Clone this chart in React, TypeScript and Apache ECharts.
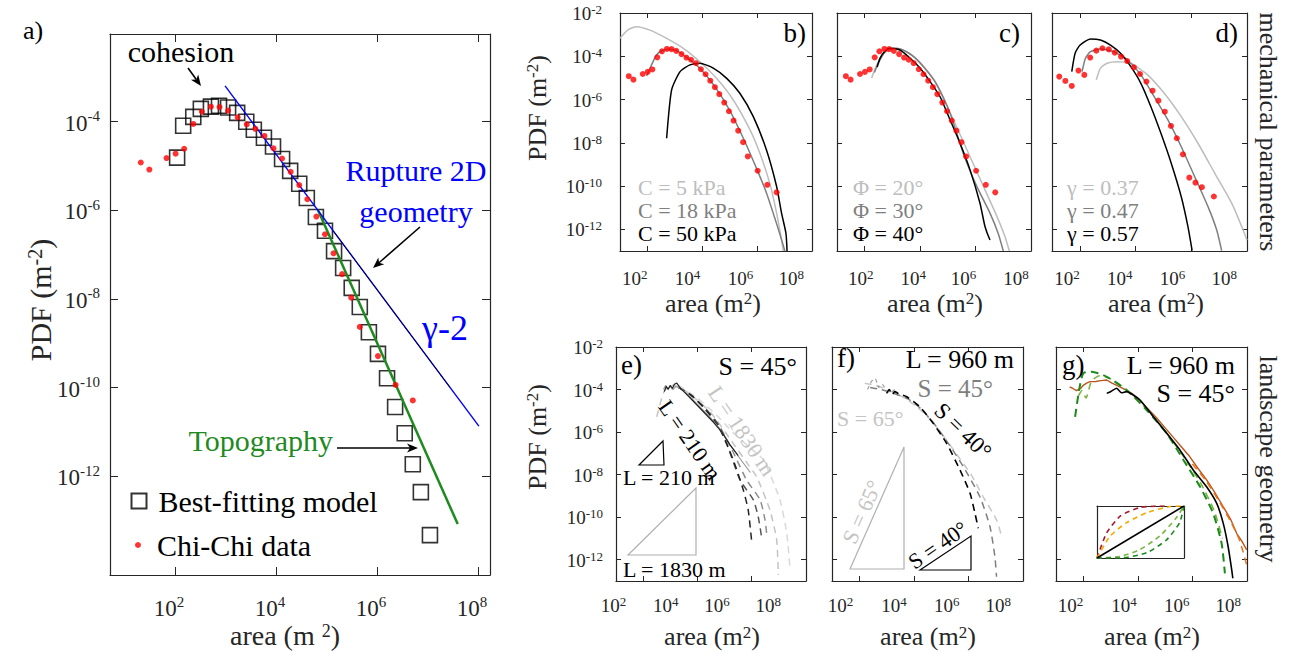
import React, { useEffect, useRef } from 'react';
import * as echarts from 'echarts';

// ---------- DATA (log10 of area in m^2, log10 of PDF in m^-2) ----------
// Panel a: best-fitting model (squares)
const aModelLogArea = [2.04, 2.16, 2.36, 2.51, 2.71, 2.87, 3.05, 3.23, 3.41, 3.56, 3.76, 3.94, 4.12, 4.28, 4.46, 4.61, 4.79, 4.97, 5.15, 5.33, 5.50, 5.66, 5.84, 6.02, 6.20, 6.36, 6.55, 6.71, 6.87, 7.05];
const aModelLogPdf = [-4.81, -4.09, -3.89, -3.71, -3.66, -3.64, -3.68, -3.80, -4.00, -4.18, -4.36, -4.56, -4.84, -5.11, -5.40, -5.72, -6.15, -6.46, -6.92, -7.30, -7.75, -8.18, -8.75, -9.24, -9.79, -10.44, -11.03, -11.73, -12.36, -13.33];
// Chi-Chi data (a, b, c)
const chiLogArea = [1.32, 1.49, 1.83, 2.01, 2.18, 2.36, 2.53, 2.71, 2.88, 3.05, 3.24, 3.42, 3.59, 3.77, 3.95, 4.12, 4.29, 4.46, 4.62, 4.80, 4.97, 5.14, 5.31, 5.49, 5.66, 6.02, 6.37, 6.71];
const chiLogPdf = [-4.92, -5.08, -4.82, -4.72, -4.61, -4.05, -3.77, -3.66, -3.67, -3.75, -3.90, -4.06, -4.16, -4.32, -4.60, -4.83, -5.13, -5.43, -5.75, -6.14, -6.54, -6.97, -7.44, -7.97, -8.63, -9.29, -9.94, -10.29];
// Panel a lines
const ruptureLogArea = [2.99, 8.02];
const ruptureLogPdf = [-3.19, -10.87];
const ruptureOverlayLogArea = [5.13, 7.45];
const ruptureOverlayLogPdf = [-6.46, -10.0];
const topoLogArea = [4.83, 7.60];
const topoLogPdf = [-5.99, -13.08];

// Panel b: cohesion
const bC5Area = [1.0, 1.3, 1.61, 2.09, 2.70, 3.31, 3.91, 4.52, 5.13, 5.74, 6.10, 6.46, 6.71, 6.89, 6.95];
const bC5Pdf = [-3.17, -2.77, -2.63, -2.79, -3.17, -3.63, -4.25, -5.02, -6.02, -7.40, -8.48, -9.87, -11.25, -12.49, -13.0];
const bC18Area = [1.97, 2.15, 2.33, 2.58, 2.82, 3.06, 3.43, 3.91, 4.46, 5.0, 5.5, 6.0, 6.35, 6.70, 6.92, 7.01];
const bC18Pdf = [-4.91, -4.40, -3.94, -3.71, -3.67, -3.74, -4.05, -4.55, -5.40, -6.50, -7.80, -9.25, -10.35, -11.7, -12.6, -13.0];
const bC50Area = [2.70, 2.88, 3.19, 3.55, 3.91, 4.40, 4.89, 5.37, 5.86, 6.34, 6.71, 6.89, 7.05, 7.09];
const bC50Pdf = [-7.79, -5.56, -4.71, -4.40, -4.32, -4.55, -5.02, -5.71, -6.79, -8.33, -10.02, -11.25, -12.18, -13.0];

// Panel c: friction angle
const cPhi20Area = [2.25, 2.4, 2.6, 2.8, 3.0, 3.3, 3.7, 4.1, 4.5, 5.08, 5.68, 6.28, 6.77, 7.05, 7.22];
const cPhi20Pdf = [-5.0, -4.5, -4.0, -3.75, -3.63, -3.66, -3.95, -4.45, -5.1, -6.6, -8.3, -10.0, -11.4, -12.3, -13.0];
const cPhi30Area = [2.35, 2.5, 2.7, 2.9, 3.1, 3.4, 3.8, 4.2, 4.6, 5.1, 5.56, 6.04, 6.52, 6.82, 7.0];
const cPhi30Pdf = [-4.75, -4.3, -3.85, -3.65, -3.63, -3.72, -4.05, -4.6, -5.3, -6.7, -8.5, -10.0, -11.25, -12.2, -13.0];
const cPhi40Area = [2.45, 2.55, 2.7, 2.91, 3.27, 3.64, 4.0, 4.36, 4.72, 5.08, 5.44, 5.80, 6.16, 6.34, 6.52];
const cPhi40Pdf = [-4.5, -4.1, -3.8, -3.63, -3.71, -4.09, -4.55, -5.17, -5.87, -6.94, -8.02, -9.25, -10.79, -11.87, -12.49];

// Panel d: gamma
const dG57Area = [1.71, 1.83, 2.01, 2.38, 2.74, 3.10, 3.46, 3.83, 4.19, 4.55, 4.91, 5.28, 5.64, 5.88, 6.03];
const dG57Pdf = [-4.71, -3.86, -3.48, -3.20, -3.25, -3.48, -3.86, -4.48, -5.25, -6.33, -7.56, -8.94, -10.49, -11.87, -12.98];
const dG47Area = [2.08, 2.20, 2.38, 2.74, 3.22, 3.71, 4.19, 4.67, 5.16, 5.64, 6.12, 6.60, 6.91, 7.09];
const dG47Pdf = [-4.71, -4.09, -3.79, -3.66, -3.79, -4.17, -4.86, -5.87, -6.94, -8.18, -9.56, -10.95, -12.02, -12.98];
const dG37Area = [2.59, 2.74, 2.98, 3.34, 3.83, 4.43, 5.03, 5.64, 6.24, 6.84, 7.45, 7.81, 8.0];
const dG37Pdf = [-5.09, -4.55, -4.32, -4.25, -4.32, -4.86, -5.71, -6.79, -8.02, -9.40, -10.79, -11.87, -12.5];
const dDataArea = [1.26, 1.48, 1.71, 1.95, 2.16, 2.37, 2.59, 2.81, 3.04, 3.25, 3.48, 3.70, 3.94, 4.16, 4.39, 4.61, 4.82, 5.05, 5.27, 5.48, 5.70, 5.93, 6.15, 6.38, 6.81];
const dDataPdf = [-4.94, -5.14, -5.37, -4.66, -4.86, -4.06, -3.74, -3.63, -3.68, -3.83, -4.02, -4.22, -4.51, -4.82, -5.17, -5.59, -6.05, -6.56, -7.22, -7.79, -8.53, -9.61, -9.84, -10.05, -10.48];

// Panel e: hillslope length
const eSolidBlackArea = [2.78, 2.85, 2.92, 3.0, 3.08, 3.15, 3.24, 3.35, 3.5, 3.7, 4.0, 4.3, 4.6, 4.9, 5.2, 5.5];
const eSolidBlackPdf = [-4.1, -3.85, -4.0, -3.8, -3.95, -3.75, -3.7, -3.9, -4.1, -4.35, -4.75, -5.15, -5.55, -6.0, -6.6, -7.1];
const eSolidGreyArea = [2.75, 2.83, 2.9, 3.0, 3.1, 3.2, 3.4, 3.7, 4.0, 4.4, 4.8, 5.2, 5.6, 5.95];
const eSolidGreyPdf = [-4.0, -3.8, -3.95, -3.85, -4.0, -3.85, -3.95, -4.3, -4.7, -5.2, -5.8, -6.6, -7.3, -7.9];
const eDash1Area = [3.3, 3.8, 4.3, 4.8, 5.32, 5.69, 5.87, 6.0];
const eDash1Pdf = [-3.9, -4.3, -4.95, -5.8, -7.31, -8.72, -9.66, -11.15];
const eDash2Area = [3.3, 3.8, 4.3, 4.8, 5.1, 5.57, 6.06, 6.24, 6.37];
const eDash2Pdf = [-3.9, -4.3, -4.9, -5.7, -6.6, -8.25, -9.19, -9.98, -10.99];
const eDash3Area = [3.3, 3.8, 4.3, 4.8, 5.3, 5.81, 6.31, 6.49, 6.55];
const eDash3Pdf = [-3.9, -4.3, -4.9, -5.7, -6.9, -8.25, -9.19, -10.13, -10.76];
const eDash4Area = [2.5, 2.74, 2.87, 3.1, 3.6, 4.5, 5.3, 5.8, 6.18, 6.67, 6.92, 6.98];
const eDash4Pdf = [-5.28, -4.18, -3.94, -3.8, -4.1, -5.1, -6.5, -7.4, -8.10, -9.66, -11.07, -12.72];
const eDash5Area = [3.3, 4.0, 4.7, 5.3, 5.9, 6.43, 7.04, 7.29, 7.41];
const eDash5Pdf = [-3.8, -4.4, -5.2, -6.0, -6.7, -7.31, -9.19, -10.76, -12.40];

// Panel f: slope
const fNoisyArea = [2.3, 2.45, 2.6, 2.7, 2.85, 3.0, 3.15, 3.3];
const fNoisyPdf = [-4.0, -3.6, -3.5, -3.9, -3.75, -4.05, -4.15, -4.0];
const fS40Area = [3.0, 3.1, 3.2, 3.3, 3.45, 3.74, 4.22, 4.71, 5.20, 5.69, 6.06, 6.24, 6.36];
const fS40Pdf = [-4.18, -4.0, -4.25, -4.1, -4.2, -4.34, -4.81, -5.59, -6.53, -7.78, -8.88, -9.82, -10.52];
const fS45Area = [2.4, 2.8, 3.3, 3.8, 4.3, 4.8, 5.3, 5.8, 6.42, 6.79, 6.97, 7.03];
const fS45Pdf = [-3.9, -4.0, -4.2, -4.45, -4.95, -5.7, -6.6, -7.6, -9.04, -10.45, -11.86, -12.8];
const fS65Area = [2.2, 2.6, 3.1, 3.6, 4.1, 4.6, 5.1, 5.6, 6.1, 6.54, 7.03, 7.22];
const fS65Pdf = [-3.7, -3.8, -4.05, -4.35, -4.8, -5.4, -6.2, -7.1, -8.0, -9.04, -10.13, -10.92];

// Panel g: hillslope shape
const gBlackArea = [2.86, 3.0, 3.22, 3.4, 3.59, 4.08, 4.57, 5.06, 5.54, 6.03, 6.52, 6.89, 7.13, 7.31, 7.44, 7.48];
const gBlackPdf = [-4.18, -4.1, -3.94, -4.15, -4.10, -4.49, -5.28, -6.06, -6.84, -7.78, -8.57, -9.35, -10.29, -11.39, -12.48, -12.87];
const gBrownArea = [1.5, 1.62, 1.75, 1.9, 2.0, 2.12, 2.25, 2.45, 2.65, 2.86, 3.05, 3.25, 3.5, 3.8, 4.1, 4.4, 4.7, 5.0, 5.3, 5.6, 5.9, 6.2, 6.52, 6.8, 7.13, 7.4, 7.62, 7.8, 7.99];
const gBrownPdf = [-3.87, -3.95, -4.05, -3.95, -3.8, -3.7, -3.63, -3.62, -3.58, -3.55, -3.7, -3.82, -3.98, -4.2, -4.55, -4.95, -5.35, -5.8, -6.25, -6.7, -7.15, -7.7, -8.25, -8.8, -9.51, -10.1, -10.76, -11.1, -11.54];
const gOrangeArea = [6.0, 6.5, 7.0, 7.4, 7.7, 7.85, 8.0];
const gOrangePdf = [-7.5, -8.3, -9.3, -10.2, -11.0, -11.6, -12.3];
const gGreenArea = [1.70, 1.85, 2.0, 2.31, 2.86, 3.59, 4.32, 5.06, 5.67, 6.28, 6.76, 7.07, 7.19];
const gGreenPdf = [-5.28, -4.0, -3.24, -3.16, -3.40, -4.02, -4.96, -6.06, -7.31, -8.57, -9.82, -11.23, -12.64];
const gLightGreenArea = [1.82, 1.95, 2.1, 2.3, 2.6, 3.0, 3.5, 4.2, 5.0, 5.7, 6.3, 6.8, 7.1];
const gLightGreenPdf = [-4.3, -4.05, -4.4, -3.6, -3.35, -3.5, -3.95, -4.75, -5.95, -7.2, -8.4, -9.7, -11.0];
// Inset of g: normalized hillslope profiles
const insetRedX = [0, 0.11, 0.27, 0.49, 0.72, 0.80];
const insetRedY = [0, 0.48, 0.81, 0.97, 1.0, 1.0];
const insetYellowX = [0, 0.15, 0.34, 0.57, 0.84, 1];
const insetYellowY = [0, 0.42, 0.68, 0.87, 0.99, 1];
const insetBlackX = [0, 1];
const insetBlackY = [0, 1];
const insetLightGreenX = [0, 0.27, 0.49, 0.72, 0.91, 1];
const insetLightGreenY = [0, 0.03, 0.16, 0.42, 0.77, 1];
const insetGreenX = [0, 0.27, 0.57, 0.80, 0.95, 1];
const insetGreenY = [0, 0, 0.10, 0.35, 0.68, 1];

// Tick positions (exponents)
const xTickExp = [2, 4, 6, 8];
const yTickExpA = [-12, -10, -8, -6, -4];
const yTickExp = [-12, -10, -8, -6, -4, -2];

// ---------- STYLE ----------
const FONT = '"Liberation Serif", "Times New Roman", serif';
const AX = '#262626';
const LGREY = '#bdbdbd';
const MGREY = '#7f7f7f';

const pairs = (xs: number[], ys: number[]) => xs.map((x, i) => [x, ys[i]]);

const grids = [
  { left: 110, top: 34, width: 380, height: 541 },
  { left: 620, top: 13, width: 192, height: 238 },
  { left: 837, top: 13, width: 194, height: 238 },
  { left: 1052, top: 13, width: 195, height: 238 },
  { left: 616, top: 347, width: 190, height: 234 },
  { left: 832, top: 347, width: 191, height: 234 },
  { left: 1056, top: 347, width: 191, height: 234 },
  { left: 1097, top: 506, width: 87, height: 52 },
];
// how far left of its tick each x tick label sits in the figure (px)
const xLabelShift = [
  [6, 6, 6, 6],
  [10, 15, 17, 21],
  [4, 7, 12, 15],
  [12, 16, 19, 23],
  [30, 32, 35, 38],
  [19, 20, 22, 25],
  [10, 14, 16, 19],
];
const xLabelMode = ['center', 'right', 'center', 'right', 'right', 'right', 'right'];

const xLabelOpt = (big: boolean, margin: number, shifts: number[], mode: string) => {
  const half = big ? 15 : 12.75;
  const rich: any = {
    b: { fontFamily: FONT, fontSize: big ? 23 : 19, color: AX, lineHeight: big ? 26 : 20, verticalAlign: 'bottom' },
    s: { fontFamily: FONT, fontSize: big ? 15 : 13, color: AX, lineHeight: big ? 14 : 11, verticalAlign: 'top' },
  };
  const pads = shifts.map((sh) => (mode === 'center' ? 2 * sh : Math.max(0, sh - half)));
  pads.forEach((p, i) => {
    rich['p' + i] = { width: Math.max(1, Math.round(p)), fontSize: 2, lineHeight: 2 };
  });
  return {
    show: true, margin, color: AX, fontFamily: FONT, fontSize: big ? 23 : 19,
    align: mode, hideOverlap: false, interval: 0,
    formatter: (v: number) => {
      const i = Math.max(0, xTickExp.indexOf(v));
      return pads[i] >= 1 ? `{b|10}{s|${v}}{p${i}| }` : `{b|10}{s|${v}}`;
    },
    rich,
  };
};
const yLabelOpt = (big: boolean, margin: number) => ({
  show: true, margin, color: AX, fontFamily: FONT, fontSize: big ? 23 : 19, hideOverlap: false,
  formatter: (v: number) => `{b|10}{s|${v}}`,
  rich: {
    b: { fontFamily: FONT, fontSize: big ? 23 : 19, color: AX, lineHeight: big ? 26 : 20, verticalAlign: 'bottom' },
    s: { fontFamily: FONT, fontSize: big ? 15 : 13, color: AX, lineHeight: big ? 14 : 11, verticalAlign: 'top' },
  },
});

function axisPair(kind: 'x' | 'y', gi: number, min: number, max: number, ticks: number[], label: any, tickLen: number) {
  const base: any = {
    gridIndex: gi, type: 'value', min, max,
    splitLine: { show: false },
    axisLine: { show: true, onZero: false, lineStyle: { color: AX, width: 1.2 } },
  };
  const tick = ticks.length
    ? { show: true, inside: true, length: tickLen, customValues: ticks, lineStyle: { color: AX, width: 1 } }
    : { show: false };
  const first = { ...base, position: kind === 'x' ? 'bottom' : 'left', axisTick: tick,
    axisLabel: label ? { ...label, customValues: ticks } : { show: false } };
  const second = { ...base, position: kind === 'x' ? 'top' : 'right', axisTick: tick, axisLabel: { show: false } };
  return [first, second];
}

const line = (gi: number, xs: number[], ys: number[], color: string, width = 1.5, dash: any = 'solid', smooth: any = 0.2, z = 2) => ({
  type: 'line', xAxisIndex: 2 * gi, yAxisIndex: 2 * gi, data: pairs(xs, ys),
  showSymbol: false, symbol: 'none', smooth, clip: true, silent: true,
  lineStyle: { color, width, type: dash }, z,
});
const dots = (gi: number, xs: number[], ys: number[], name: string) => ({
  type: 'scatter', name, xAxisIndex: 2 * gi, yAxisIndex: 2 * gi, data: pairs(xs, ys),
  symbol: 'circle', symbolSize: 6, itemStyle: { color: '#ff0000' }, z: 5, silent: true,
});

const txt = (text: string, x: number, y: number, size: number, color = '#000', align = 'center', rotation = 0, rich?: any, lineHeight?: number) => ({
  type: 'text', x, y, rotation, z: 10,
  style: { text, fontFamily: FONT, fontSize: size, fill: color, align, verticalAlign: 'middle', rich, lineHeight: lineHeight || Math.round(size * 1.0) },
});
const supRich = (size: number, color: string) => ({
  s: { fontFamily: FONT, fontSize: Math.round(size * 0.65), fill: color, color, verticalAlign: 'top', lineHeight: Math.round(size * 0.6) },
});
const arrow = (x1: number, y1: number, x2: number, y2: number) => {
  const dx = x2 - x1, dy = y2 - y1, L = Math.hypot(dx, dy);
  const ux = dx / L, uy = dy / L, nx = -uy, ny = ux;
  const len = 11, w = 4.5;
  const bx = x2 - ux * len, by = y2 - uy * len;
  return [
    { type: 'line', z: 10, shape: { x1, y1, x2: bx + ux * 3, y2: by + uy * 3 }, style: { stroke: '#000', lineWidth: 1.6 } },
    { type: 'polygon', z: 10, shape: { points: [[x2, y2], [bx + nx * w, by + ny * w], [bx + ux * 3, by + uy * 3], [bx - nx * w, by - ny * w]] }, style: { fill: '#000' } },
  ];
};
const tri = (pts: number[][], color: string) => ({
  type: 'polygon', z: 10, shape: { points: pts }, style: { fill: 'none', stroke: color, lineWidth: 1.2 },
});

export default function App() {
  const ref = useRef<HTMLDivElement>(null);
  useEffect(() => {
    if (!ref.current) return;
    const chart = echarts.init(ref.current, undefined, { renderer: 'svg' });

    const xAxis: any[] = [];
    const yAxis: any[] = [];
    // a
    xAxis.push(...axisPair('x', 0, 0.71, 8.24, xTickExp, xLabelOpt(true, 19, xLabelShift[0], xLabelMode[0]), 8));
    yAxis.push(...axisPair('y', 0, -14.23, -2.02, yTickExpA, yLabelOpt(true, 10), 8));
    // b..g
    const yLab = [true, false, false, true, false, false];
    for (let k = 1; k <= 6; k++) {
      xAxis.push(...axisPair('x', k, 1, 8, xTickExp, xLabelOpt(false, k <= 3 ? 17 : 14, xLabelShift[k], xLabelMode[k]), 5));
      yAxis.push(...axisPair('y', k, -13, -2, yTickExp, yLab[k - 1] ? yLabelOpt(false, k === 1 ? 18 : 13) : null, 5));
    }
    // inset
    xAxis.push(...axisPair('x', 7, 0, 1, [], null, 3));
    yAxis.push(...axisPair('y', 7, 0, 1, [], null, 3));

    const series: any[] = [
      // a
      {
        type: 'scatter', name: 'Best-fitting model', xAxisIndex: 0, yAxisIndex: 0,
        data: pairs(aModelLogArea, aModelLogPdf), symbol: 'rect', symbolSize: 15,
        itemStyle: { color: 'rgba(0,0,0,0)', borderColor: '#000', borderWidth: 1.6 }, z: 3, silent: true,
      },
      line(0, topoLogArea, topoLogPdf, '#1f8a1f', 2.5, 'solid', false, 4),
      line(0, ruptureLogArea, ruptureLogPdf, '#0000ff', 1.4, 'solid', false, 4),
      line(0, ruptureOverlayLogArea, ruptureOverlayLogPdf, '#000', 0.8, 'solid', false, 4),
      dots(0, chiLogArea, chiLogPdf, 'Chi-Chi data'),
      // b
      line(1, bC5Area, bC5Pdf, LGREY),
      line(1, bC18Area, bC18Pdf, MGREY),
      line(1, bC50Area, bC50Pdf, '#000'),
      dots(1, chiLogArea, chiLogPdf, 'Chi-Chi data b'),
      // c
      line(2, cPhi20Area, cPhi20Pdf, LGREY),
      line(2, cPhi30Area, cPhi30Pdf, MGREY),
      line(2, cPhi40Area, cPhi40Pdf, '#000'),
      dots(2, chiLogArea, chiLogPdf, 'Chi-Chi data c'),
      // d
      line(3, dG37Area, dG37Pdf, LGREY),
      line(3, dG47Area, dG47Pdf, MGREY),
      line(3, dG57Area, dG57Pdf, '#000'),
      dots(3, dDataArea, dDataPdf, 'Chi-Chi data d'),
      // e
      line(4, eDash5Area, eDash5Pdf, '#d9d9d9', 1.5, [7, 5]),
      line(4, eDash4Area, eDash4Pdf, '#c4c4c4', 1.5, [7, 5]),
      line(4, eDash3Area, eDash3Pdf, '#8c8c8c', 1.5, [7, 5]),
      line(4, eDash2Area, eDash2Pdf, '#555555', 1.5, [7, 5]),
      line(4, eDash1Area, eDash1Pdf, '#222222', 1.5, [7, 5]),
      line(4, eSolidGreyArea, eSolidGreyPdf, '#9a9a9a', 1.2, 'solid', false),
      line(4, eSolidBlackArea, eSolidBlackPdf, '#222', 1.2, 'solid', false),
      // f
      line(5, fS65Area, fS65Pdf, '#c8c8c8', 1.5, [7, 5]),
      line(5, fS45Area, fS45Pdf, '#7f7f7f', 1.5, [7, 5]),
      line(5, fNoisyArea, fNoisyPdf, '#a0a0a0', 1.2, [4, 3], false),
      line(5, fS40Area, fS40Pdf, '#000', 1.6, [7, 5]),
      // g
      line(6, gBrownArea, gBrownPdf, '#b8561e', 1.4, 'solid', false),
      line(6, gOrangeArea, gOrangePdf, '#e8731a', 1.5, [7, 5]),
      line(6, gLightGreenArea, gLightGreenPdf, '#7cb342', 1.6, [7, 5]),
      line(6, gGreenArea, gGreenPdf, '#1a8a1a', 2, [8, 5]),
      line(6, gBlackArea, gBlackPdf, '#000', 1.6, 'solid', 0.15),
      // inset
      line(7, insetRedX, insetRedY, '#a51c30', 1.6, [5, 4]),
      line(7, insetYellowX, insetYellowY, '#f2a900', 1.6, [5, 4]),
      line(7, insetLightGreenX, insetLightGreenY, '#7cb342', 1.6, [5, 4]),
      line(7, insetGreenX, insetGreenY, '#1a8a1a', 1.6, [5, 4]),
      line(7, insetBlackX, insetBlackY, '#000', 1.6, 'solid', false),
    ];

    const graphic: any[] = [
      // panel a
      txt('a)', 33, 30, 26),
      txt('cohesion', 181, 51, 30),
      ...arrow(188, 68, 201, 86),
      txt('Rupture 2D', 416, 170, 30, '#0000ff'),
      txt('geometry', 416, 211, 30, '#0000ff'),
      ...arrow(420, 227, 373, 268),
      txt('γ-2', 445, 328, 36, '#0000ff'),
      txt('Topography', 333, 440, 30, '#1f8a1f', 'right'),
      ...arrow(337, 448, 418, 448),
      txt('PDF (m{s|-2})', 40, 300, 30, AX, 'center', Math.PI / 2, supRich(30, AX)),
      txt('area (m {s|2})', 285, 635, 28, AX, 'center', 0, supRich(28, AX), 26),
      // panel b
      txt('b)', 806, 33, 27, '#000', 'right'),
      txt('C = 5 kPa', 638, 187, 22, LGREY, 'left', 0, undefined, 18),
      txt('C = 18 kPa', 638, 210, 22, MGREY, 'left', 0, undefined, 18),
      txt('C = 50 kPa', 638, 233, 22, '#000', 'left', 0, undefined, 18),
      txt('PDF (m{s|-2})', 537, 108, 26, AX, 'center', Math.PI / 2, supRich(26, AX)),
      txt('area (m{s|2})', 713, 303, 26, AX, 'center', 0, supRich(26, AX)),
      // panel c
      txt('c)', 1020, 33, 27, '#000', 'right'),
      txt('Φ = 20°', 853, 187, 22, LGREY, 'left', 0, undefined, 18),
      txt('Φ = 30°', 853, 210, 22, MGREY, 'left', 0, undefined, 18),
      txt('Φ = 40°', 853, 233, 22, '#000', 'left', 0, undefined, 18),
      txt('area (m{s|2})', 935, 303, 26, AX, 'center', 0, supRich(26, AX)),
      // panel d
      txt('d)', 1238, 33, 27, '#000', 'right'),
      txt('γ = 0.37', 1067, 187, 22, LGREY, 'left', 0, undefined, 18),
      txt('γ = 0.47', 1067, 210, 22, MGREY, 'left', 0, undefined, 18),
      txt('γ = 0.57', 1067, 233, 22, '#000', 'left', 0, undefined, 18),
      txt('area (m{s|2})', 1156, 303, 26, AX, 'center', 0, supRich(26, AX)),
      txt('mechanical parameters', 1268, 132, 26, AX, 'center', -Math.PI / 2),
      // panel e
      txt('e)', 621, 365, 27, '#000', 'left'),
      txt('S = 45°', 797, 366, 26, '#000', 'right'),
      txt('L = 210 m', 690, 440, 22, '#000', 'center', -0.96),
      txt('L = 1830 m', 742, 431, 22, '#c4c4c4', 'center', -0.98),
      tri([[639, 465], [663, 441], [664, 465]], '#000'),
      txt('L = 210 m', 623, 477, 22, '#000', 'left', 0, undefined, 20),
      tri([[628, 555], [696, 488], [696, 555]], '#b0b0b0'),
      txt('L = 1830 m', 623, 569, 22, '#000', 'left', 0, undefined, 20),
      txt('PDF (m{s|-2})', 537, 437, 26, AX, 'center', Math.PI / 2, supRich(26, AX)),
      txt('area (m{s|2})', 712, 636, 26, AX, 'center', 0, supRich(26, AX), 24),
      // panel f
      txt('f)', 837, 358, 27, '#000', 'left', 0, undefined, 24),
      txt('L = 960 m', 1014, 359, 26, '#000', 'right', 0, undefined, 20),
      txt('S = 45°', 993, 388, 25, MGREY, 'right', 0, undefined, 18),
      txt('S = 65°', 837, 418, 22, '#c4c4c4', 'left', 0, undefined, 20),
      txt('S = 40°', 963, 431, 23, '#000', 'center', -0.77, undefined, 20),
      tri([[850, 569], [904, 447], [904, 569]], '#b0b0b0'),
      txt('S = 65°', 862, 512, 22, '#c4c4c4', 'center', 1.15, undefined, 20),
      tri([[920, 570], [971, 536], [971, 570]], '#000'),
      txt('S = 40°', 938, 545, 22, '#000', 'center', 0.6, undefined, 20),
      txt('area (m{s|2})', 928, 636, 26, AX, 'center', 0, supRich(26, AX), 24),
      // panel g
      txt('g)', 1062, 365, 27, '#000', 'left', 0, undefined, 24),
      txt('L = 960 m', 1235, 365, 26, '#000', 'right', 0, undefined, 24),
      txt('S = 45°', 1235, 393, 26, '#000', 'right', 0, undefined, 24),
      txt('area (m{s|2})', 1152, 636, 26, AX, 'center', 0, supRich(26, AX), 24),
      txt('landscape geometry', 1268, 459, 26, AX, 'center', -Math.PI / 2),
    ];

    chart.setOption({
      animation: false,
      textStyle: { fontFamily: FONT },
      grid: grids.map((g) => ({ ...g, containLabel: false })),
      xAxis,
      yAxis,
      legend: [
        {
          data: [{ name: 'Best-fitting model' }], left: 130.5, top: 486, padding: 0,
          itemWidth: 15, itemHeight: 15, selectedMode: false,
          textStyle: { fontFamily: FONT, fontSize: 30, color: '#000', padding: [0, 0, 0, 7] },
        },
        {
          data: [{ name: 'Chi-Chi data' }], left: 135, top: 530, padding: 0,
          itemWidth: 6, itemHeight: 6, selectedMode: false,
          textStyle: { fontFamily: FONT, fontSize: 30, color: '#000', padding: [0, 0, 0, 11] },
        },
      ],
      series,
      graphic,
    });
    return () => chart.dispose();
  }, []);
  return <div ref={ref} style={{ position: 'fixed', left: 0, top: 0, width: 1290, height: 652, background: '#fff' }} />;
}
